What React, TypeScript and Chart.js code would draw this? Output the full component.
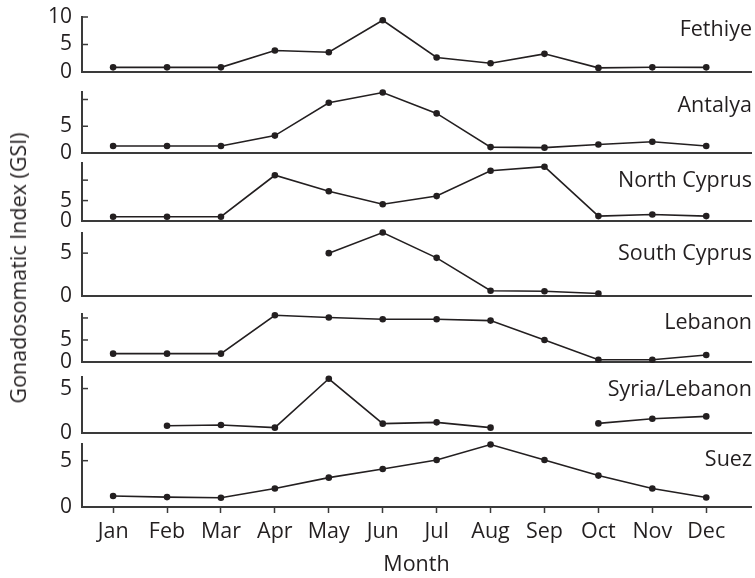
import React, { useEffect, useRef } from 'react';
import { Chart, registerables } from 'chart.js';

Chart.register(...registerables);

// ---------- data ----------
const months = ['Jan', 'Feb', 'Mar', 'Apr', 'May', 'Jun', 'Jul', 'Aug', 'Sep', 'Oct', 'Nov', 'Dec'];
const fethiye = [0.85, 0.85, 0.85, 3.9, 3.6, 9.4, 2.65, 1.6, 3.3, 0.75, 0.85, 0.85];
const antalya = [1.3, 1.3, 1.3, 3.25, 9.4, 11.3, 7.4, 1.1, 1.0, 1.6, 2.1, 1.3];
const northCyprus = [1.05, 1.05, 1.05, 11.2, 7.3, 4.1, 6.1, 12.3, 13.3, 1.2, 1.6, 1.2];
const southCyprus = [null, null, null, null, 5.0, 7.4, 4.45, 0.62, 0.55, 0.3, null, null];
const lebanon = [1.9, 1.9, 1.9, 10.6, 10.1, 9.7, 9.7, 9.4, 5.0, 0.5, 0.5, 1.6];
const syriaLebanon = [null, 0.82, 0.9, 0.6, 6.1, 1.05, 1.2, 0.6, null, 1.08, 1.6, 1.87];
const suez = [1.18, 1.07, 1.0, 2.0, 3.17, 4.1, 5.07, 6.75, 5.07, 3.39, 2.0, 1.03];

const panelNames = ['Fethiye', 'Antalya', 'North Cyprus', 'South Cyprus', 'Lebanon', 'Syria/Lebanon', 'Suez'];
const panelSeries = [fethiye, antalya, northCyprus, southCyprus, lebanon, syriaLebanon, suez];
const panelMax = [10, 11.4, 14.2, 7.35, 10.9, 6.3, 6.8];
const panelTicks = [[0, 5, 10], [0, 5, 10], [0, 5, 10], [0, 5], [0, 5, 10], [0, 5], [0, 5]];
const panelLabeledTicks = [[0, 5, 10], [0, 5], [0, 5], [0, 5], [0, 5], [0, 5], [0, 5]];

const xTitle = 'Month';
const yTitle = 'Gonadosomatic Index (GSI)';

// ---------- layout ----------
const W = 755;
const H = 578;
const AXIS_LEFT = 82;
const PAD_TOP = 28;
const X_MIN = -0.577;
const X_MAX = 11.83;
const panelTop = [17, 92, 163, 233, 314, 377, 444];
const panelBottom = [72, 153, 221, 296, 362, 433, 507];
const labelCenterY = [28, 104, 179, 252, 321, 388, 458];
const INK = '#231f20';
const AXIS = '#3a3a3a';
const FONT = "'Open Sans', sans-serif";
const FS_TICK = 21;
const FS_TEXT = 21.5;

const innerTicksPlugin = {
  id: 'innerTicks',
  afterDraw(chart: any) {
    const ys = chart.scales.y;
    const list: number[] = chart.options.plugins.innerTicks.values || [];
    const ctx = chart.ctx;
    ctx.save();
    ctx.strokeStyle = AXIS;
    ctx.lineWidth = 1.5;
    list.forEach((v) => {
      if (v === 0) return;
      const py = ys.getPixelForValue(v);
      ctx.beginPath();
      ctx.moveTo(chart.chartArea.left, py);
      ctx.lineTo(chart.chartArea.left + 6, py);
      ctx.stroke();
    });
    ctx.restore();
  },
};

function Panel({ idx }: { idx: number }) {
  const ref = useRef<HTMLCanvasElement>(null);
  const isBottom = idx === panelNames.length - 1;
  const xh = isBottom ? H - panelBottom[idx] : 28;
  const top = panelTop[idx] - PAD_TOP;
  const height = panelBottom[idx] - panelTop[idx] + PAD_TOP + xh;

  useEffect(() => {
    if (!ref.current) return;
    const vals = panelSeries[idx];
    const chart = new Chart(ref.current, {
      type: 'line',
      data: {
        datasets: [
          {
            data: months.map((_, i) => ({ x: i, y: vals[i] })),
            borderColor: INK,
            backgroundColor: INK,
            pointBackgroundColor: INK,
            pointBorderColor: INK,
            pointRadius: 3.3,
            pointBorderWidth: 0,
            borderWidth: 1.6,
            tension: 0,
            spanGaps: false,
            clip: false as any,
          },
        ],
      },
      options: {
        animation: false,
        responsive: false,
        devicePixelRatio: 1,
        events: [],
        layout: { padding: { top: PAD_TOP, left: 0, right: 0, bottom: 0 } },
        plugins: {
          legend: { display: false },
          tooltip: { enabled: false },
          innerTicks: { values: panelTicks[idx] },
        } as any,
        scales: {
          x: {
            type: 'linear',
            min: X_MIN,
            max: X_MAX,
            afterFit: (s: any) => {
              s.height = xh;
            },
            ticks: {
              display: isBottom,
              stepSize: 1,
              includeBounds: false,
              autoSkip: false,
              maxRotation: 0,
              padding: 6,
              color: INK,
              font: { family: FONT, size: FS_TEXT },
              callback: (v: any) => months[v as number] ?? '',
            },
            grid: {
              display: isBottom,
              drawOnChartArea: false,
              drawTicks: true,
              tickLength: 6,
              tickWidth: 1.5,
              color: AXIS,
            },
            border: { display: true, color: AXIS, width: 2 },
            title: {
              display: isBottom,
              text: xTitle,
              color: INK,
              font: { family: FONT, size: FS_TEXT },
              padding: { top: 0, bottom: 0 },
            },
          },
          y: {
            min: 0,
            max: panelMax[idx],
            afterFit: (s: any) => {
              s.width = AXIS_LEFT;
            },
            afterBuildTicks: (s: any) => {
              s.ticks = panelTicks[idx].map((v) => ({ value: v }));
            },
            ticks: {
              autoSkip: false,
              padding: 10,
              color: INK,
              font: { family: FONT, size: FS_TICK },
              callback: (v: any) => (panelLabeledTicks[idx].includes(v as number) ? String(v) : ''),
            },
            grid: { display: false, drawTicks: false },
            border: { display: true, color: AXIS, width: 2 },
          },
        },
      },
      plugins: [innerTicksPlugin],
    });
    return () => chart.destroy();
  }, [idx]);

  return (
    <canvas
      ref={ref}
      width={W}
      height={height}
      style={{ position: 'absolute', left: 0, top, width: W, height }}
    />
  );
}

export default function App() {
  return (
    <div
      style={{
        position: 'fixed',
        left: 0,
        top: 0,
        width: W,
        height: H,
        background: '#fff',
        overflow: 'hidden',
        fontFamily: FONT,
        color: INK,
      }}
    >
      {panelNames.map((_, i) => (
        <Panel key={i} idx={i} />
      ))}
      {panelNames.map((name, i) => (
        <div
          key={'l' + i}
          style={{
            position: 'absolute',
            right: 3,
            top: labelCenterY[i] - 15,
            height: 30,
            lineHeight: '30px',
            fontSize: FS_TEXT,
            whiteSpace: 'nowrap',
            textAlign: 'right',
          }}
        >
          {name}
        </div>
      ))}
      <div
        style={{
          position: 'absolute',
          left: 18,
          top: 268,
          width: 0,
          height: 0,
        }}
      >
        <div
          style={{
            position: 'absolute',
            left: 0,
            top: 0,
            transform: 'translate(-50%, -50%) rotate(-90deg)',
            fontSize: FS_TEXT,
            whiteSpace: 'nowrap',
            lineHeight: '30px',
          }}
        >
          {yTitle}
        </div>
      </div>
    </div>
  );
}
